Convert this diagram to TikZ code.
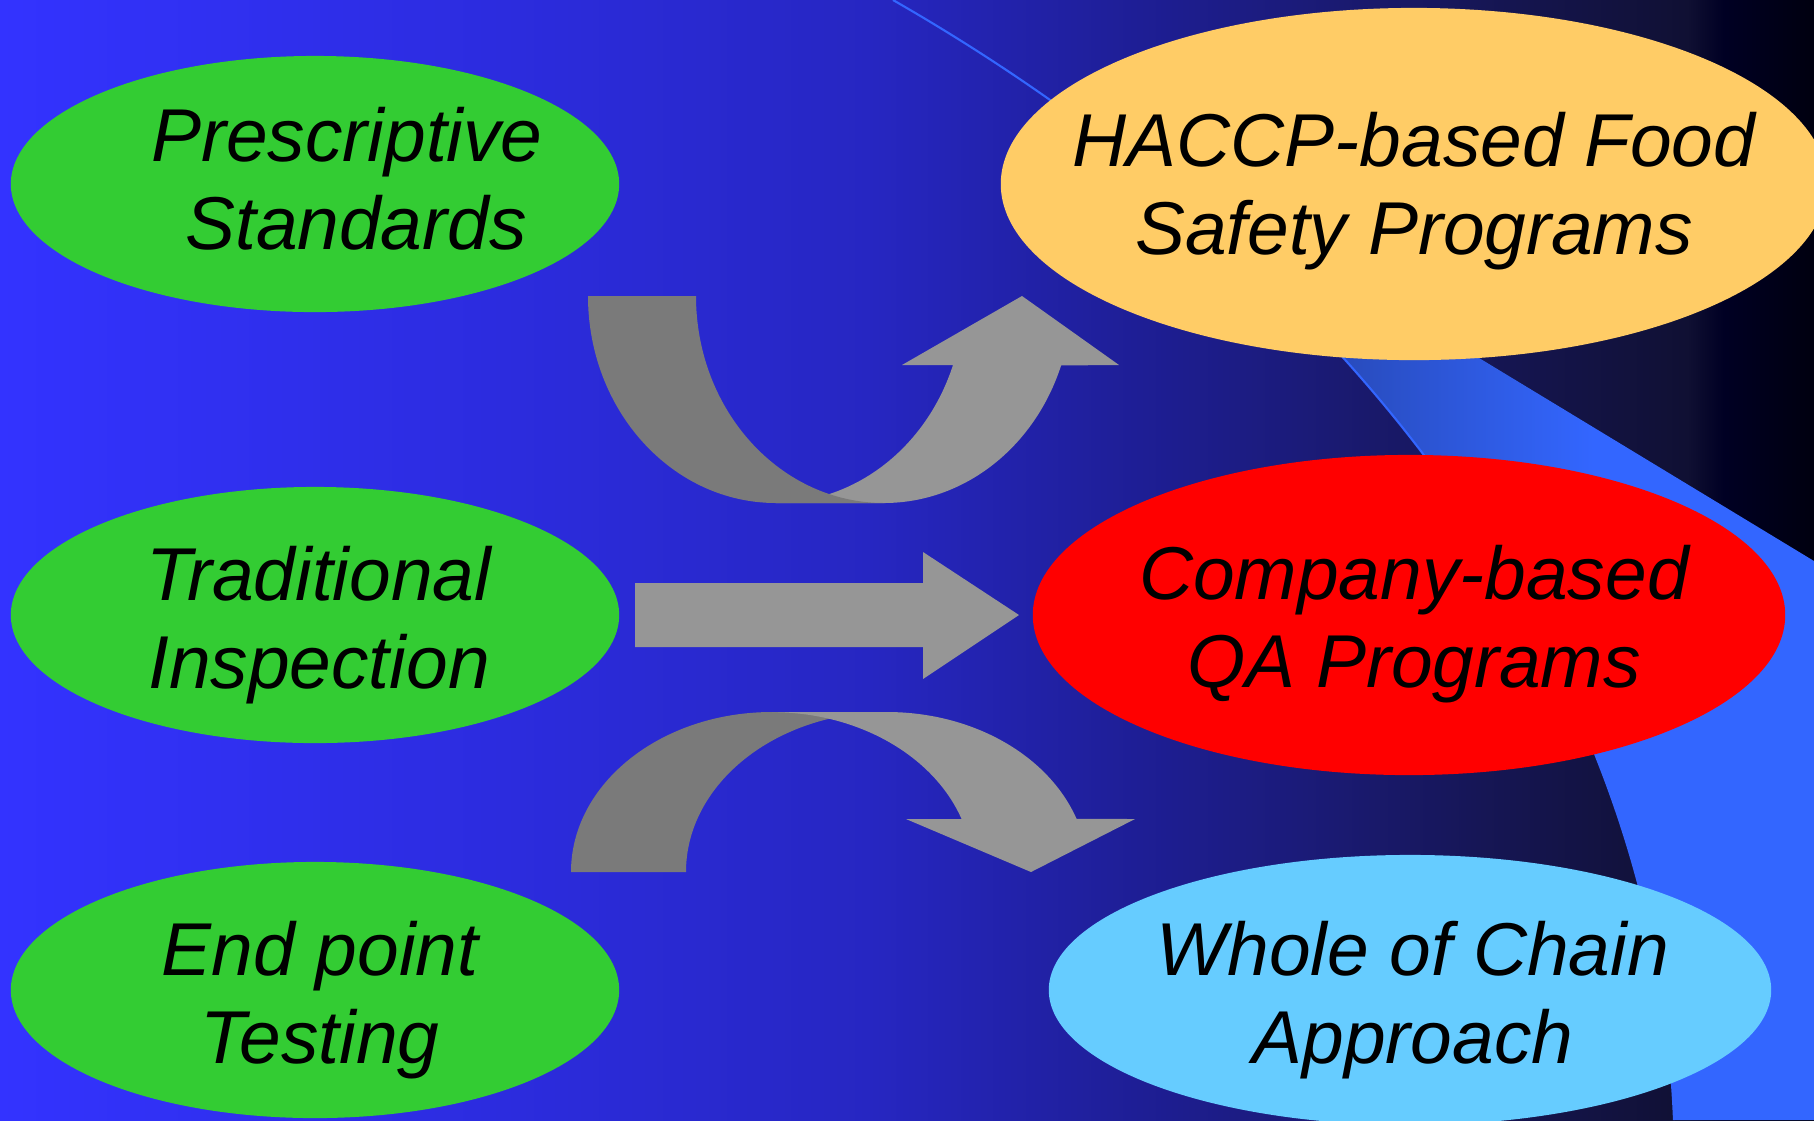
\documentclass[tikz,border=0pt]{standalone}
\usepackage{fontspec}
\setmainfont{Liberation Sans}
\usetikzlibrary{shapes.geometric}

\definecolor{leafgreen}{RGB}{51,204,51}
\definecolor{haccporange}{RGB}{255,204,102}
\definecolor{qared}{RGB}{255,0,0}
\definecolor{chainblue}{RGB}{102,204,255}
\definecolor{bandblue}{RGB}{51,102,255}
\definecolor{backgrey}{RGB}{122,122,122}
\definecolor{frontgrey}{RGB}{150,150,150}

\pgfdeclarehorizontalshading{slidebg}{100bp}{%
  rgb(0bp)=(0.2,0.2,1); rgb(25bp)=(0.2,0.2,1);
  rgb(40bp)=(0.17,0.17,0.86); rgb(49bp)=(0.15,0.15,0.76);
  rgb(57bp)=(0.115,0.115,0.57); rgb(61bp)=(0.105,0.105,0.47);
  rgb(66bp)=(0.085,0.085,0.33); rgb(71.5bp)=(0.063,0.063,0.2);
  rgb(72.5bp)=(0,0,0.14); rgb(75bp)=(0,0,0.06); rgb(100bp)=(0,0,0.06)}
\pgfdeclarehorizontalshading{bandshade}{100bp}{%
  rgb(0bp)=(0.16,0.3,0.75); rgb(50bp)=(0.16,0.3,0.75);
  rgb(63bp)=(0.2,0.4,1); rgb(100bp)=(0.2,0.4,1)}

\tikzset{
    oval/.style={ellipse, inner sep=0pt},
    source/.style={oval, fill=leafgreen, minimum width=6.08cm, minimum height=2.56cm},
    caption/.style={font=\itshape\fontsize{21.3}{25}\selectfont, align=center, inner sep=0pt},
}

\begin{document}
\begin{tikzpicture}[x=0.01cm, y=-0.01cm]
    \useasboundingbox (0,0) rectangle (1814,1120);
    \clip (0,0) rectangle (1814,1120);
    \fill[shading=slidebg] (0,0) rectangle (1814,1120);

    % lighter band behind the right column
    \begin{scope}
        \clip (1100,128) -- (1814,561) -- (1814,1120) -- (1100,1120) -- cycle;
        \fill[shading=bandshade] (893,0) .. controls (1320,245) and (1655,640) .. (1674,1120)
            -- (1814,1120) -- (1814,0) -- cycle;
    \end{scope}
    \draw[bandblue, line width=0.6pt] (893,0) .. controls (1320,245) and (1655,640) .. (1674,1120);

    % the six ovals
    \node[source] (pres) at (315,184) {};
    \node[source] (trad) at (315,615) {};
    \node[source] (endp) at (315,990) {};
    \node[oval, fill=haccporange, minimum width=8.26cm, minimum height=3.52cm] (haccp) at (1414,184) {};
    \node[oval, fill=qared, minimum width=7.52cm, minimum height=3.2cm] (qa) at (1409,615) {};
    \node[oval, fill=chainblue, minimum width=7.22cm, minimum height=2.7cm] (chain) at (1410,990) {};

    \node[caption] (pres text) at ([shift={(32,-5)}]pres) {Prescriptive\\\hspace*{0.18cm}Standards};
    \node[caption] (trad text) at ([shift={(4,10)}]trad) {Traditional\\Inspection};
    \node[caption] (endp text) at ([shift={(5,10)}]endp) {End point\\Testing};
    \node[caption] (haccp text) at ([shift={(0,7)}]haccp) {HACCP-based Food\\Safety Programs};
    \node[caption] (qa text) at ([shift={(5,9)}]qa) {Company-based\\QA Programs};
    \node[caption] (chain text) at ([shift={(3,10)}]chain) {Whole of Chain\\Approach};

    % upper bend: front band first, back band over it
    \fill[frontgrey] (776,503) -- (884,503)
        arc[start angle=90, end angle=19.6, x radius=188, y radius=207]
        -- (1119,365) -- (1022,296) -- (902,365) -- (953,365)
        arc[start angle=19.6, end angle=90, x radius=188, y radius=207] -- cycle;
    \fill[backgrey] (588,296)
        arc[start angle=180, end angle=90, x radius=188, y radius=207]
        -- (884,503)
        arc[start angle=90, end angle=180, x radius=188, y radius=207] -- cycle;

    % straight arrow
    \fill[frontgrey] (635,583) -- (923,583) -- (923,552) -- (1019,615) -- (923,679)
        -- (923,647) -- (635,647) -- cycle;

    % lower bend: back band first, front band over it
    \fill[backgrey] (571,872)
        arc[start angle=180, end angle=270, x radius=201, y radius=160]
        -- (887,712)
        arc[start angle=270, end angle=180, x radius=201, y radius=160] -- cycle;
    \fill[frontgrey] (772,712) -- (887,712)
        arc[start angle=270, end angle=340.6, x radius=201, y radius=160]
        -- (1135,819) -- (1031,872) -- (906,819) -- (961.6,819)
        arc[start angle=340.6, end angle=270, x radius=201, y radius=160] -- cycle;
\end{tikzpicture}
\end{document}
